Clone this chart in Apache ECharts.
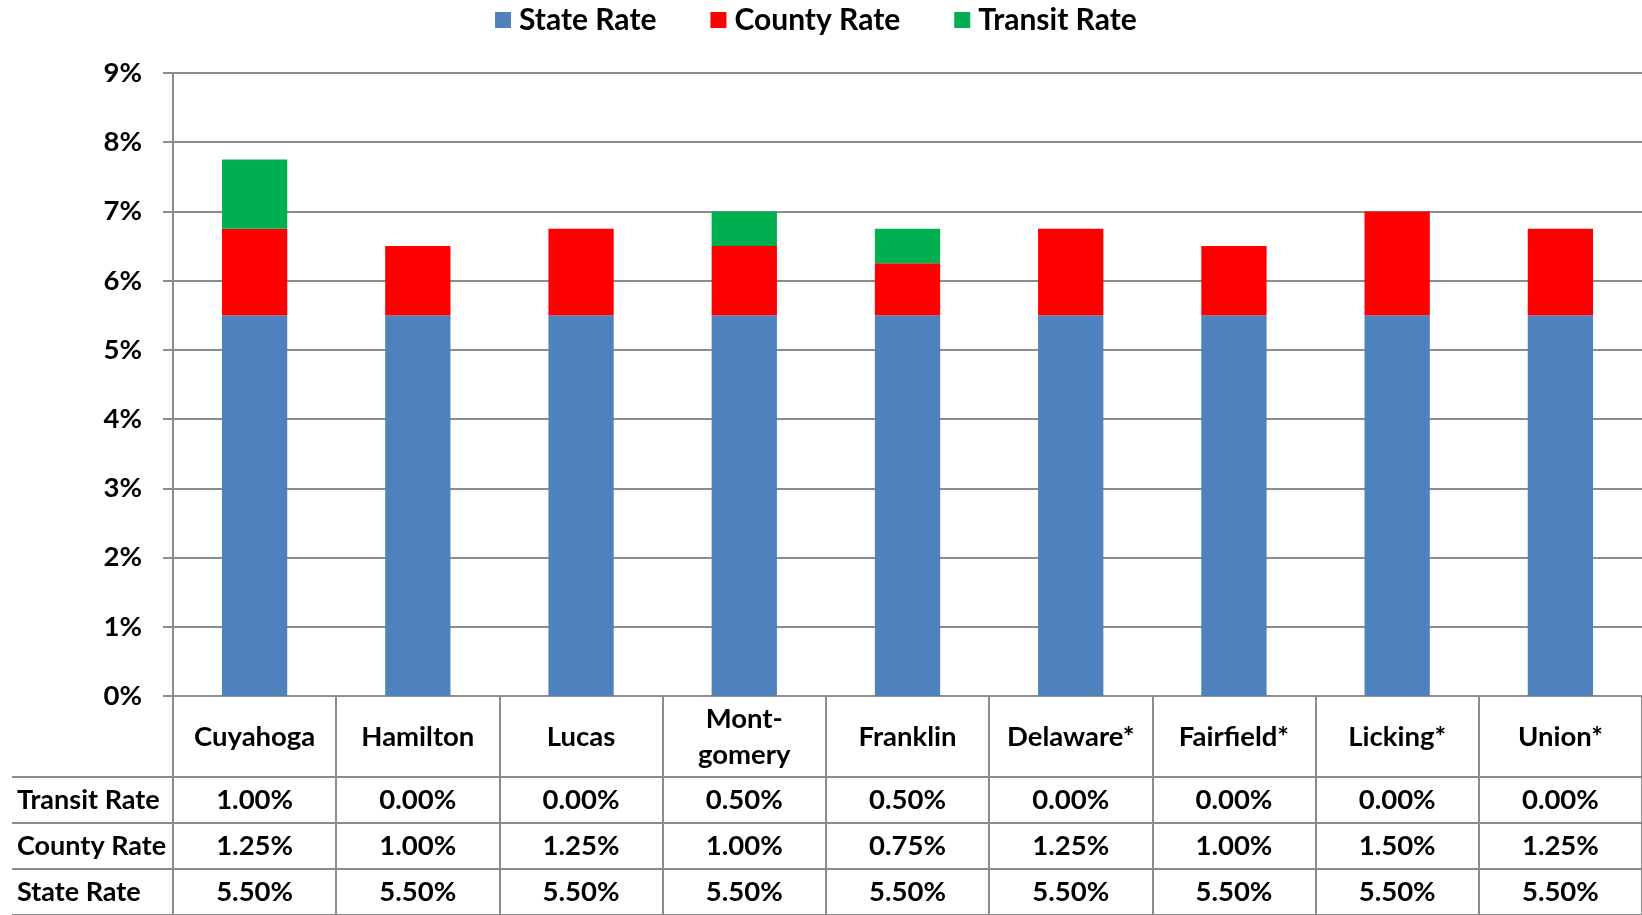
<!DOCTYPE html>
<html>
<head>
<meta charset="utf-8">
<script src="https://cdn.jsdelivr.net/npm/echarts@6/dist/echarts.min.js"></script>
<style>
html,body{margin:0;padding:0;background:#fff;}
#chart{width:1642px;height:915px;}
</style>
</head>
<body>
<div id="chart"></div>
<script>
const counties = ['Cuyahoga','Hamilton','Lucas','Mont-\ngomery','Franklin','Delaware*','Fairfield*','Licking*','Union*'];
const stateRate = [5.5,5.5,5.5,5.5,5.5,5.5,5.5,5.5,5.5];
const countyRate = [1.25,1.0,1.25,1.0,0.75,1.25,1.0,1.5,1.25];
const transitRate = [1.0,0,0,0.5,0.5,0,0,0,0];
const rowNames = ['Transit Rate','County Rate','State Rate'];
const seriesNames = ['State Rate','County Rate','Transit Rate'];
const yTicks = [0,1,2,3,4,5,6,7,8,9];

const FONT = 'Lato';
const GRAY = '#8c8c8c';

const rowValues = {'Transit Rate': transitRate, 'County Rate': countyRate, 'State Rate': stateRate};
const tableData = [];
rowNames.forEach(r => {
  rowValues[r].forEach((v, i) => tableData.push([i, r, v]));
});

const chart = echarts.init(document.getElementById('chart'));
chart.setOption({
  animation: false,
  textStyle: {fontFamily: FONT},
  legend: {
    data: seriesNames,
    top: 0,
    left: 490,
    itemWidth: 16,
    itemHeight: 16,
    itemGap: 54,
    icon: 'rect',
    textStyle: {fontFamily: FONT, fontWeight: 700, fontSize: 30, color: '#000', padding: [0,0,0,3]}
  },
  grid: [
    {left: 173, right: -2, top: 73, height: 623},
    {left: 173, right: -2, top: 777, height: 139}
  ],
  xAxis: [
    {
      type: 'category', gridIndex: 0, data: counties,
      axisLine: {show: true, lineStyle: {color: GRAY, width: 2}},
      axisTick: {show: true, alignWithLabel: false, length: 220, lineStyle: {color: GRAY, width: 2}},
      axisLabel: {margin: 41, verticalAlign: 'middle', fontFamily: FONT, fontWeight: 700, fontSize: 27.5, color: '#000', lineHeight: 36, interval: 0}
    },
    {
      type: 'category', gridIndex: 1, data: counties,
      axisLine: {show: false}, axisTick: {show: false}, axisLabel: {show: false}
    }
  ],
  yAxis: [
    {
      type: 'value', gridIndex: 0, min: yTicks[0], max: yTicks[yTicks.length-1], interval: 1,
      axisLine: {show: true, lineStyle: {color: GRAY, width: 2}},
      axisTick: {show: true, length: 10, lineStyle: {color: GRAY, width: 2}},
      splitLine: {show: true, lineStyle: {color: GRAY, width: 2}},
      axisLabel: {formatter: '{value}%', margin: 31, fontFamily: FONT, fontWeight: 700, fontSize: 27.5, color: '#000'}
    },
    {
      type: 'category', gridIndex: 1, data: rowNames, inverse: true,
      axisLine: {show: false},
      axisTick: {show: true, length: 161, lineStyle: {color: GRAY, width: 2}},
      splitLine: {show: true, lineStyle: {color: GRAY, width: 2}},
      axisLabel: {align: 'left', margin: 156, fontFamily: FONT, fontWeight: 700, fontSize: 27, color: '#000'}
    },
    {
      type: 'category', gridIndex: 1, data: rowNames, inverse: true, offset: 161,
      axisLine: {show: true, lineStyle: {color: GRAY, width: 2}},
      axisTick: {show: false}, axisLabel: {show: false}
    }
  ],
  series: [
    {name: seriesNames[0], type: 'bar', stack: 'tax', barWidth: '40%', data: stateRate, itemStyle: {color: '#4f81bd'}},
    {name: seriesNames[1], type: 'bar', stack: 'tax', barWidth: '40%', data: countyRate, itemStyle: {color: '#ff0000'}},
    {name: seriesNames[2], type: 'bar', stack: 'tax', barWidth: '40%', data: transitRate, itemStyle: {color: '#00b050'}},
    {
      type: 'scatter', xAxisIndex: 1, yAxisIndex: 1, symbolSize: 0, silent: true,
      itemStyle: {opacity: 1},
      data: tableData,
      label: {show: true, position: 'inside', fontFamily: FONT, fontWeight: 700, fontSize: 27.5, color: '#000',
        formatter: p => p.value[2].toFixed(2) + '%'}
    }
  ]
});
</script>
</body>
</html>
